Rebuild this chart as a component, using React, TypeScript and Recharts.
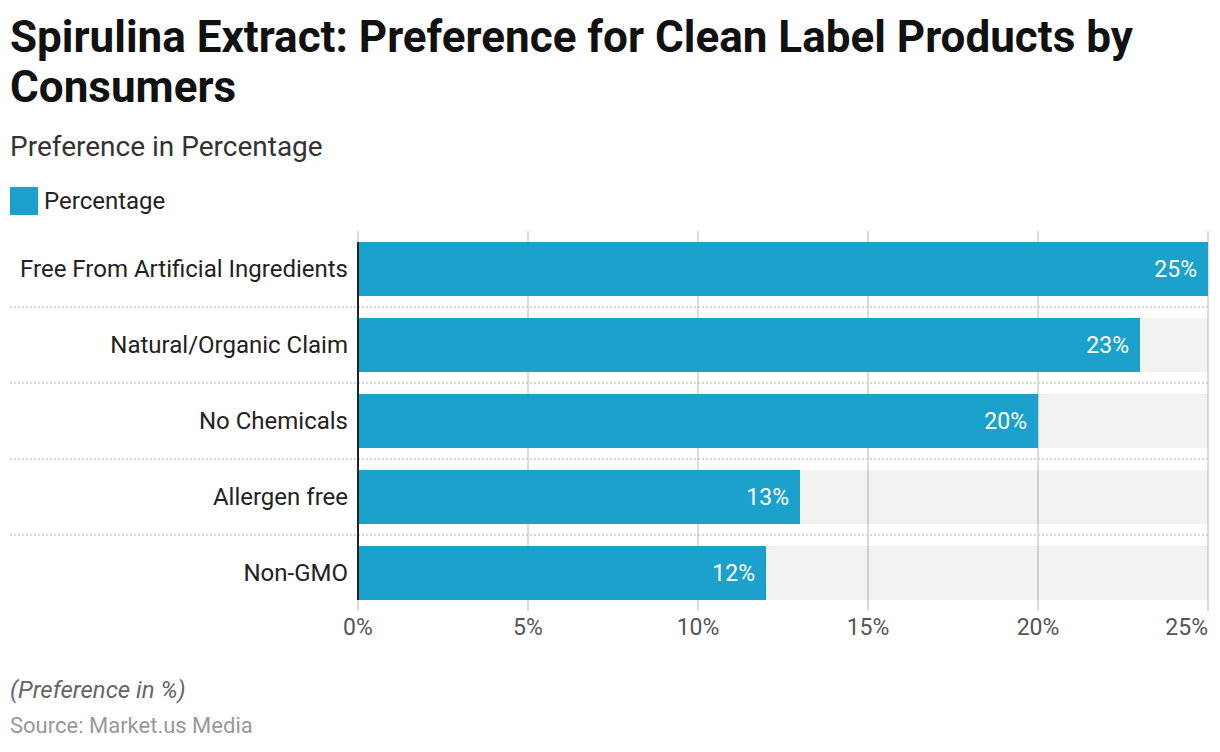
import { BarChart, Bar, XAxis, YAxis, CartesianGrid, LabelList } from 'recharts'

const categories = ['Free From Artificial Ingredients', 'Natural/Organic Claim', 'No Chemicals', 'Allergen free', 'Non-GMO']
const percentages = [25, 23, 20, 13, 12]
const xTicks = [0, 5, 10, 15, 20, 25]

const chartData = categories.map((name, i) => ({ name, value: percentages[i] }))

const FONT = 'Roboto, "Noto Sans", sans-serif'
const BAR_COLOR = '#1ba1cc'
const BAND = 76
const BAR = 54

function YTick(props: any) {
  const { x, y, payload, index } = props
  const last = index === categories.length - 1
  const top = index === 0 ? y - BAR / 2 : y - BAND / 2
  const bottom = last ? y + BAR / 2 : y + BAND / 2
  return (
    <g>
      <text x={x - 10} y={y} textAnchor="end" dominantBaseline="central" fill="#222" fontSize={24} fontFamily={FONT}>
        {payload.value}
      </text>
      {!last && (
        <line x1={10} x2={1208} y1={y + BAND / 2} y2={y + BAND / 2} stroke="#c8c8c8" strokeWidth={1.5} strokeDasharray="2 2" />
      )}
      <line x1={x} x2={x} y1={top} y2={bottom} stroke="#222" strokeWidth={2} />
    </g>
  )
}

function XTick(props: any) {
  const { x, y, payload } = props
  const isLast = payload.value === xTicks[xTicks.length - 1]
  return (
    <text x={x} y={y + 16} textAnchor={isLast ? 'end' : 'middle'} dominantBaseline="central" fill="#555" fontSize={23} fontFamily={FONT}>
      {`${payload.value}%`}
    </text>
  )
}

export default function App() {
  return (
    <div style={{ position: 'absolute', left: 0, top: 0, width: 1220, height: 752, background: '#fff', fontFamily: FONT, overflow: 'hidden' }}>
      <div style={{ position: 'absolute', left: 10, top: 12, width: 1190, fontSize: 44, lineHeight: '50px', fontWeight: 700, color: '#111' }}>
        Spirulina Extract: Preference for Clean Label Products by Consumers
      </div>
      <div style={{ position: 'absolute', left: 10, top: 131, fontSize: 28, lineHeight: '32px', color: '#333' }}>
        Preference in Percentage
      </div>
      <div style={{ position: 'absolute', left: 10, top: 187, width: 28, height: 28, background: BAR_COLOR }} />
      <div style={{ position: 'absolute', left: 44, top: 187, fontSize: 24, lineHeight: '28px', color: '#222' }}>
        Percentage
      </div>

      <div style={{ position: 'absolute', left: 0, top: 0 }}>
        <BarChart
          width={1220}
          height={660}
          data={chartData}
          layout="vertical"
          margin={{ top: 231, right: 12, bottom: 19, left: 0 }}
        >
          <CartesianGrid horizontal={false} stroke="#cfcfcf" strokeWidth={1.5} />
          <XAxis
            type="number"
            domain={[0, 25]}
            ticks={xTicks}
            axisLine={false}
            tickLine={false}
            tickSize={0}
            tickMargin={0}
            height={30}
            tick={<XTick />}
            interval={0}
          />
          <YAxis
            type="category"
            dataKey="name"
            width={358}
            axisLine={false}
            tickLine={false}
            tickSize={0}
            tickMargin={0}
            tick={<YTick />}
            interval={0}
          />
          <Bar dataKey="value" fill={BAR_COLOR} barSize={BAR} background={{ fill: 'rgba(0,0,0,0.05)' }} isAnimationActive={false}>
            <LabelList
              dataKey="value"
              position="insideRight"
              offset={11}
              fill="#fff"
              fontSize={23}
              fontFamily={FONT}
              formatter={(v: any) => `${v}%`}
            />
          </Bar>
        </BarChart>
      </div>

      <div style={{ position: 'absolute', left: 10, top: 676, fontSize: 24, lineHeight: '28px', fontStyle: 'italic', color: '#666' }}>
        (Preference in %)
      </div>
      <div style={{ position: 'absolute', left: 10, top: 712, fontSize: 22, lineHeight: '28px', color: '#999' }}>
        Source: Market.us Media
      </div>
    </div>
  )
}
